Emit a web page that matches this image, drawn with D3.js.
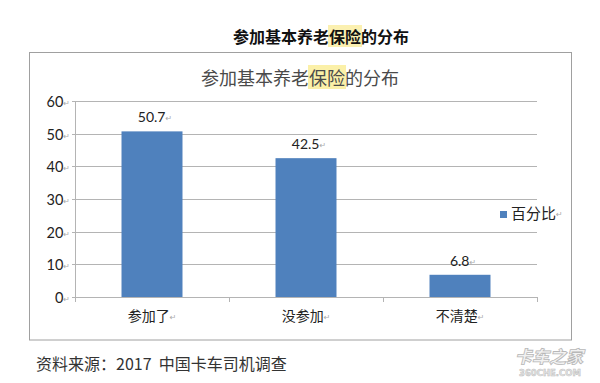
<!DOCTYPE html>
<html><head><meta charset="utf-8">
<script src="https://cdn.jsdelivr.net/npm/d3@7"></script>
<style>
html,body{margin:0;padding:0;background:#fff;}
svg{display:block;}
</style></head>
<body>
<svg id="c" width="600" height="383"></svg>
<script>
const categories = ["参加了", "没参加", "不清楚"];
const values = [50.7, 42.5, 6.8];
const yTicks = [0, 10, 20, 30, 40, 50, 60];
const seriesName = "百分比";
const pageTitle = ["参加基本养老", "保险", "的分布"];
const sourceText = "资料来源：2017  中国卡车司机调查";

const CJK = "'Noto Sans CJK SC','Noto Sans',sans-serif";
const NUM = "Lato,'Noto Sans CJK SC',sans-serif";
const svg = d3.select("#c");
const barColor = "#4f81bd";
const gridColor = "#b4b4b4";
const retColor = "#aaaaaa";

function titleWithHighlight(g, cx, cy, size, weight, color, hlColor) {
  const t = g.append("text").attr("x", cx).attr("y", cy)
    .attr("text-anchor", "middle").attr("dominant-baseline", "central")
    .style("font-family", CJK).style("font-size", size + "px")
    .style("font-weight", weight).attr("fill", color);
  pageTitle.forEach((s, i) => t.append("tspan").attr("class", "p" + i).text(s));
  const node = t.node();
  const start = pageTitle[0].length;
  const ext0 = node.getExtentOfChar(start);
  const ext1 = node.getExtentOfChar(start + pageTitle[1].length - 1);
  g.insert("rect", "text")
    .attr("x", ext0.x - 1).attr("y", ext0.y + 1)
    .attr("width", ext1.x + ext1.width - ext0.x + 2).attr("height", ext0.height - 2)
    .attr("fill", hlColor);
}

const gTop = svg.append("g");
titleWithHighlight(gTop, 321, 36, 16, 700, "#111", "#fbf0b0");

svg.append("rect").attr("x", 29.5).attr("y", 52.5).attr("width", 542).attr("height", 287.5)
  .attr("fill", "#fff").attr("stroke", "#a0a0a0").attr("stroke-width", 1);

const gInner = svg.append("g");
titleWithHighlight(gInner, 300, 77, 18, 400, "#4a4a4a", "#fbf0a8");

const x = d3.scaleBand().domain(categories).range([75, 537])
  .paddingInner(0.604).paddingOuter(0.302);
const y = d3.scaleLinear().domain([0, 60]).range([297, 101]);

svg.append("g").selectAll("line").data(yTicks.filter(d => d > 0)).join("line")
  .attr("x1", 72).attr("x2", 537)
  .attr("y1", d => Math.round(y(d)) + 0.5).attr("y2", d => Math.round(y(d)) + 0.5)
  .attr("stroke", gridColor).attr("stroke-width", 1);

svg.append("line").attr("x1", 75.5).attr("x2", 75.5).attr("y1", y(60)).attr("y2", y(0))
  .attr("stroke", gridColor);
svg.append("line").attr("x1", 72).attr("x2", 75).attr("y1", Math.round(y(0)) + 0.5).attr("y2", Math.round(y(0)) + 0.5)
  .attr("stroke", gridColor);

const yl = svg.append("g").selectAll("text").data(yTicks).join("text")
  .attr("x", 70).attr("y", d => y(d))
  .attr("text-anchor", "end").attr("dominant-baseline", "central")
  .style("font-family", NUM).style("font-size", "14.5px").attr("fill", "#222");
yl.append("tspan").text(d => d);
yl.append("tspan").attr("dy", "2").style("font-size", "8px").style("font-family", "'DejaVu Sans'")
  .attr("fill", retColor).text("↵");

svg.append("g").selectAll("rect").data(values).join("rect")
  .attr("x", (d, i) => x(categories[i])).attr("width", x.bandwidth())
  .attr("y", d => y(d)).attr("height", d => y(0) - y(d))
  .attr("fill", barColor);

svg.append("line").attr("x1", 75).attr("x2", 537)
  .attr("y1", Math.round(y(0)) + 0.5).attr("y2", Math.round(y(0)) + 0.5)
  .attr("stroke", gridColor);
const bounds = d3.range(categories.length + 1).map(i => 75 + i * x.step());
svg.append("g").selectAll("line").data(bounds).join("line")
  .attr("x1", d => Math.round(d) + 0.5).attr("x2", d => Math.round(d) + 0.5)
  .attr("y1", y(0)).attr("y2", y(0) + 5).attr("stroke", gridColor);

const cl = svg.append("g").selectAll("text").data(categories).join("text")
  .attr("x", d => x(d) + x.bandwidth() / 2).attr("y", 315)
  .attr("text-anchor", "middle").attr("dominant-baseline", "central")
  .style("font-family", CJK).style("font-size", "14px").attr("fill", "#222");
cl.append("tspan").text(d => d);
cl.append("tspan").attr("dy", "2").style("font-size", "8px").style("font-family", "'DejaVu Sans'")
  .attr("fill", retColor).text("↵");

const dl = svg.append("g").selectAll("text").data(values).join("text")
  .attr("x", (d, i) => x(categories[i]) + x.bandwidth() / 2 + 3).attr("y", d => y(d) - 15)
  .attr("text-anchor", "middle").attr("dominant-baseline", "central")
  .style("font-family", NUM).style("font-size", "14px").attr("fill", "#222");
dl.append("tspan").text(d => d);
dl.append("tspan").attr("dy", "2").style("font-size", "8px").style("font-family", "'DejaVu Sans'")
  .attr("fill", retColor).text("↵");

svg.append("rect").attr("x", 500).attr("y", 211).attr("width", 7).attr("height", 7).attr("fill", barColor);
const lg = svg.append("text").attr("x", 511).attr("y", 212)
  .attr("dominant-baseline", "central")
  .style("font-family", CJK).style("font-size", "15px").attr("fill", "#222");
lg.append("tspan").text(seriesName);
lg.append("tspan").attr("dy", "2").style("font-size", "8px").style("font-family", "'DejaVu Sans'")
  .attr("fill", retColor).text("↵");

svg.append("text").attr("x", 36).attr("y", 363).attr("dominant-baseline", "central")
  .attr("xml:space", "preserve").style("white-space", "pre")
  .style("font-family", CJK).style("font-size", "16px").attr("fill", "#333")
  .text(sourceText);

// watermark
svg.append("text").attr("x", 549).attr("y", 355).attr("text-anchor", "middle").attr("dominant-baseline", "central")
  .style("font-family", CJK).style("font-size", "17px").style("font-weight", 900).style("font-style", "italic")
  .attr("fill", "#f2f2f2").attr("stroke", "#b8b8b8").attr("stroke-width", 0.8)
  .text("卡车之家");
svg.append("text").attr("x", 550).attr("y", 373).attr("text-anchor", "middle").attr("dominant-baseline", "central")
  .style("font-family", "'DejaVu Sans'").style("font-size", "8.5px").style("font-weight", 700)
  .attr("fill", "#e4e4e4").attr("stroke", "#bdbdbd").attr("stroke-width", 0.5)
  .text("360CHE.COM");
</script>
</body></html>
